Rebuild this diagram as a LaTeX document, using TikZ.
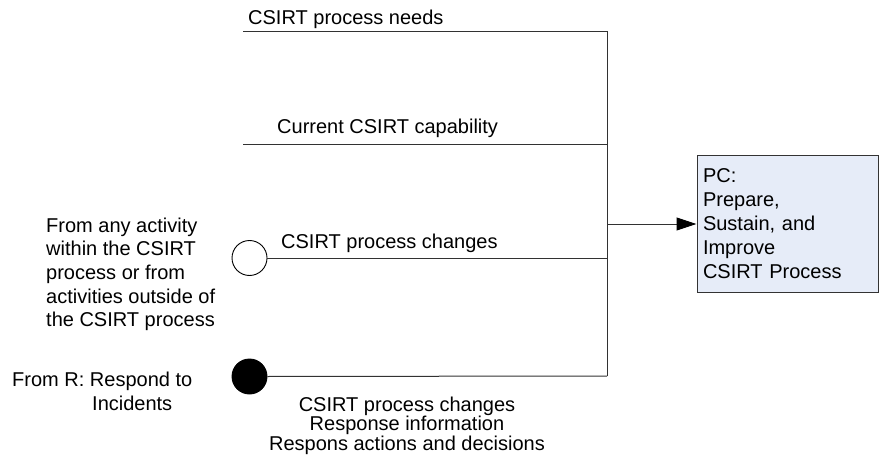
\documentclass[tikz,border=0pt]{standalone}
\usepackage{fontspec}
\setmainfont{Liberation Sans}
\usetikzlibrary{arrows.meta}
\definecolor{boxfill}{RGB}{230,236,248}
\definecolor{linecol}{RGB}{50,50,50}
\begin{document}
\begin{tikzpicture}[x=1pt,y=-1pt,
  font=\fontsize{20}{23.7}\selectfont,
  conn/.style={draw=linecol,line width=1pt},
  lbl/.style={inner sep=0pt,anchor=base west},
  port/.style={circle,draw=black,line width=0.9pt,minimum size=35pt,inner sep=0pt},
  procbox/.style={draw=black!80,line width=1pt,fill=boxfill,minimum width=181pt,minimum height=136pt,
    inner xsep=6pt,text width=169pt,align=left,font=\fontsize{20}{24}\selectfont}
]
\useasboundingbox (0,0) rectangle (883,465);

% coordinates
\coordinate (n1) at (243,32);
\coordinate (j1) at (607,32);
\coordinate (c1) at (243,145);
\coordinate (j2) at (607,145);
\coordinate (ja) at (607,224);
\coordinate (j3) at (607,258);
\coordinate (j4) at (607,376);

% ports
\node[port,fill=white] (wc) at (249.5,258) {};
\node[port,fill=black] (bc) at (249.5,376.5) {};

% process box
\node[procbox] (pc) at (787.5,224) {PC:\\Prepare,\\Sustain, and\\Improve\\CSIRT Process};

% connectors
\draw[conn] (n1) -- (j1) -- (j4);
\draw[conn] (c1) -- (j2);
\draw[conn] (wc.east) -- (j3);
\draw[conn] (bc.east) -- (j4);
\draw[conn,-{Triangle[length=20pt,width=13pt,color=black,fill=black]}] (ja) -- (pc.west);

% labels
\node[lbl] (t1) at (248,25) {CSIRT process needs};
\node[lbl] (t2) at (277,134) {Current CSIRT capability};
\node[lbl] (t3) at (281,248) {CSIRT process changes};

\node[inner sep=0pt,anchor=north west,align=left] (src1) at (46,217.4)
  {From any activity\\within the CSIRT\\process or from\\activities outside of\\the CSIRT process};

\node[inner sep=0pt,anchor=north west,align=left,font=\fontsize{20}{24}\selectfont] (src2) at (12,371.4)
  {From R: Respond to\\\hspace*{80pt}Incidents};

\node[inner sep=0pt,anchor=north,align=center,font=\fontsize{20}{19.5}\selectfont] (out) at (407,396.4)
  {CSIRT process changes\\Response information\\Respons actions and decisions};
\end{tikzpicture}
\end{document}
